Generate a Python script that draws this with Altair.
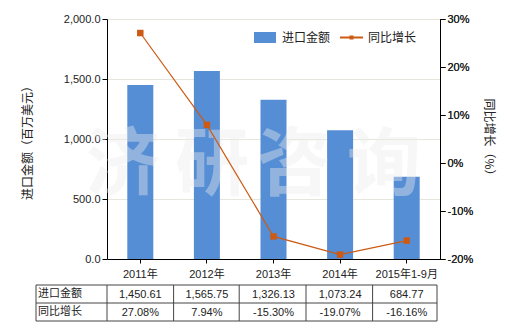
import altair as alt
import pandas as pd

years = ["2011年", "2012年", "2013年", "2014年", "2015年1-9月"]
import_values = [1450.61, 1565.75, 1326.13, 1073.24, 684.77]
growth_pct = [27.08, 7.94, -15.30, -19.07, -16.16]
import_labels = ["1,450.61", "1,565.75", "1,326.13", "1,073.24", "684.77"]
growth_labels = ["27.08%", "7.94%", "-15.30%", "-19.07%", "-16.16%"]
row_names = ["进口金额", "同比增长"]
left_ticks = [0, 500, 1000, 1500, 2000]
right_ticks = [-20, -10, 0, 10, 20, 30]
watermark_chars = ["济", "研", "咨", "询"]
left_title = "进口金额（百万美元）"
right_title = "同比增长（%）"

FONT = "Liberation Sans, Noto Sans CJK SC, sans-serif"
CJK = "Noto Sans CJK SC"
BAR = "#558ED5"
LINE = "#CC5A14"
W, H = 333, 240

df = pd.DataFrame({
    "year": years,
    "value": import_values,
    "growth": growth_pct,
    "vlabel": import_labels,
    "glabel": growth_labels,
})

xenc = alt.X("year:N", sort=years,
             scale=alt.Scale(paddingInner=0, paddingOuter=0),
             axis=alt.Axis(title=None, labelAngle=0, labelFontSize=11, labelColor="#222",
                           labelFont=FONT, domainColor="#000", tickColor="#000",
                           tickSize=4, labelPadding=5))

bars = alt.Chart(df).mark_bar(size=26, color=BAR).encode(
    x=xenc,
    y=alt.Y("value:Q", scale=alt.Scale(domain=[0, 2000], nice=False),
            axis=alt.Axis(values=left_ticks, format=",.1f", title=None,
                          labelFontSize=11, labelColor="#222", labelFont=FONT,
                          grid=True, gridColor="#E8E6DA", domainColor="#000",
                          tickColor="#000", tickSize=5)),
)

yright = alt.Y("growth:Q", scale=alt.Scale(domain=[-20, 30], nice=False),
               axis=alt.Axis(orient="right", values=right_ticks, labelExpr="datum.value + '%'",
                             title=None, labelFontSize=11, labelColor="#222", labelFont=FONT,
                             grid=False, domainColor="#000", tickColor="#000", tickSize=5))

line = alt.Chart(df).mark_line(color=LINE, strokeWidth=1.2).encode(x=alt.X("year:N", sort=years), y=yright)
pts = alt.Chart(df).mark_square(color=LINE, size=42, opacity=1).encode(x=alt.X("year:N", sort=years), y=yright)

wm = alt.Chart(pd.DataFrame({"c": watermark_chars, "px": [16, 105, 187, 277]})).mark_text(
    fontSize=74, font=CJK, fontWeight="bold", color="#ECECEC", opacity=0.4,
    align="center", baseline="middle").encode(
    x=alt.X("px:Q", scale=None), y=alt.value(148), text="c:N")

titles = alt.Chart(pd.DataFrame({"t": [left_title, right_title], "px": [-79, 382],
                                 "ang": [270, 90]})).mark_text(
    fontSize=12, font=CJK, color="#222", align="center", baseline="middle").encode(
    x=alt.X("px:Q", scale=None), y=alt.value(121), text="t:N",
    angle=alt.Angle("ang:Q", scale=None))

# table
tab_v = alt.Chart(df).mark_text(fontSize=11, font=FONT, color="#222", baseline="middle").encode(
    x=alt.X("year:N", sort=years), y=alt.value(276), text="vlabel:N")
tab_g = alt.Chart(df).mark_text(fontSize=11, font=FONT, color="#222", baseline="middle").encode(
    x=alt.X("year:N", sort=years), y=alt.value(294), text="glabel:N")
rows = alt.Chart(pd.DataFrame({"r": row_names, "py": [275, 293]})).mark_text(
    fontSize=11, font=FONT, color="#222", align="left", baseline="middle").encode(
    x=alt.value(-69), y=alt.Y("py:Q", scale=None), text="r:N")

hlines = alt.Chart(pd.DataFrame({"py": [266, 284, 302]})).mark_rule(color="#444", strokeWidth=1).encode(
    x=alt.value(-71), x2=alt.value(330), y=alt.Y("py:Q", scale=None))
vlines = alt.Chart(pd.DataFrame({"px": [-71, 0, 66.6, 132.2, 199, 265.6, 330]})).mark_rule(
    color="#444", strokeWidth=1).encode(
    x=alt.X("px:Q", scale=None), y=alt.value(266), y2=alt.value(302))

# legend
leg_rect = alt.Chart(pd.DataFrame({"a": [0]})).mark_rect(color=BAR).encode(
    x=alt.value(147), x2=alt.value(169), y=alt.value(13), y2=alt.value(24))
leg_line = alt.Chart(pd.DataFrame({"a": [0]})).mark_rule(color=LINE, strokeWidth=2).encode(
    x=alt.value(233), x2=alt.value(256), y=alt.value(18.5))
leg_pt = alt.Chart(pd.DataFrame({"a": [0]})).mark_square(color=LINE, size=16, opacity=1).encode(
    x=alt.value(244.5), y=alt.value(18.5))
leg_txt = alt.Chart(pd.DataFrame({"t": ["进口金额", "同比增长"], "px": [175, 261]})).mark_text(
    fontSize=12, font=FONT, color="#222", align="left", baseline="middle").encode(
    x=alt.X("px:Q", scale=None), y=alt.value(19), text="t:N")

chart = alt.layer(
    bars, wm, line, pts, titles, tab_v, tab_g, rows, hlines, vlines,
    leg_rect, leg_line, leg_pt, leg_txt
).resolve_scale(y="independent").properties(
    width=W, height=H,
    autosize=alt.AutoSizeParams(type="none"),
    padding={"left": 107, "top": 19, "right": 80, "bottom": 71},
).configure_view(stroke=None).configure(background="white")

chart.save("out.html", embed_options={"renderer": "svg", "actions": False})
